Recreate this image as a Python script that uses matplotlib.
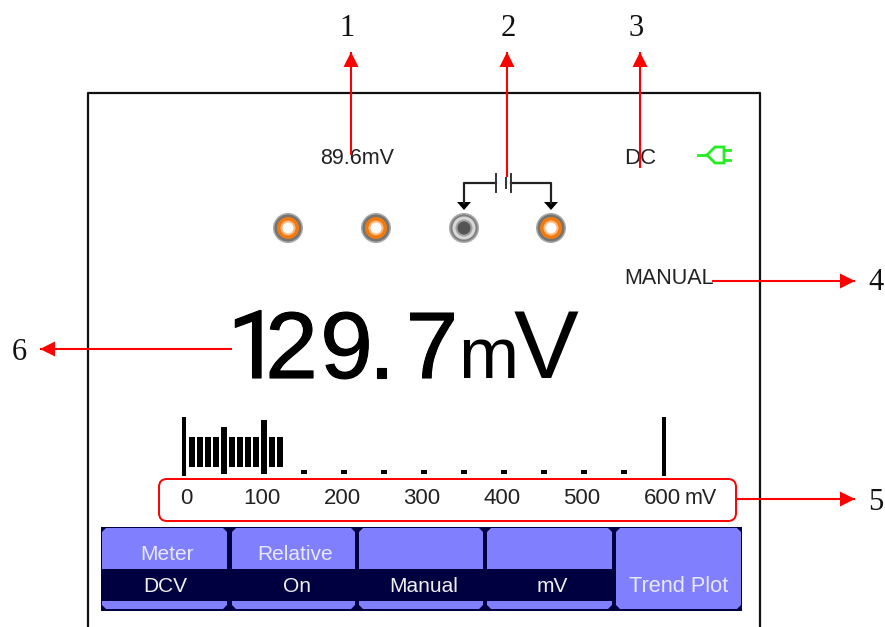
import matplotlib
matplotlib.use("Agg")
import matplotlib.pyplot as plt
import matplotlib.patheffects as pe
from matplotlib.patches import Circle, FancyBboxPatch, Polygon, Rectangle

W, H = 885, 627

# bar graph: values in mV, tops/bottoms in image pixels
bar_mv = [10, 20, 30, 40, 50, 60, 70, 80, 90, 100, 110, 120]
bar_top = [437, 437, 437, 437, 427, 437, 437, 437, 437, 420, 437, 437]
bar_bottom = [467, 467, 467, 467, 470, 467, 467, 467, 467, 470, 467, 467]
limit_mv = [0, 600]
dot_mv = [50, 100, 150, 200, 250, 300, 350, 400, 450, 500, 550]
scale_ticks = [0, 100, 200, 300, 400, 500, 600]
scale_labels = ["0", "100", "200", "300", "400", "500", "600"]

# big reading is spaced by hand, the screen font is tighter than Liberation
reading_chars = ["1", "2", "9", ".", "7"]
reading_x = [254, 291.5, 346.5, 381.5, 432]
# Roboto for the 1 because Liberation's has a foot the screen font doesn't
reading_font = ["Roboto", "Liberation Sans", "Liberation Sans", "Liberation Sans", "Liberation Sans"]

menu_top = ["Meter", "Relative", "", ""]
menu_bottom = ["DCV", "On", "Manual", "mV"]
menu_left = [102, 232, 359, 487]
menu_right = [227, 355, 483, 612]

terminal_x = [288, 376, 464, 551]
terminal_on = [True, True, False, True]

NAVY = "#000040"
BLUE = "#8080ff"
RED = "#ff0000"
TEXT = "#222222"
SANS = ["Liberation Sans", "DejaVu Sans"]


def px_to_mv(x):
    return (x - 184) * 600 / 480


def arrow(ax, x0, y0, x1, y1):
    ax.plot([x0, x1], [y0, y1], color=RED, lw=1.5, solid_capstyle="butt", zorder=6)
    dx = (x1 > x0) - (x1 < x0)
    dy = (y1 > y0) - (y1 < y0)
    # head is 15 px long, 15 px wide
    ax.add_patch(Polygon([(x1, y1),
                          (x1 - 15 * dx + 7.5 * dy, y1 - 15 * dy + 7.5 * dx),
                          (x1 - 15 * dx - 7.5 * dy, y1 - 15 * dy - 7.5 * dx)],
                         color=RED, lw=0, zorder=6))


def button(ax, x0, x1, y0, y1, cut_top=True, cut_bottom=True):
    c = 4
    pts = []
    pts += [(x0 + c, y0), (x1 - c, y0), (x1, y0 + c)] if cut_top else [(x0, y0), (x1, y0)]
    pts += [(x1, y1 - c), (x1 - c, y1), (x0 + c, y1), (x0, y1 - c)] if cut_bottom else [(x1, y1), (x0, y1)]
    if cut_top:
        pts.append((x0, y0 + c))
    ax.add_patch(Polygon(pts, color=BLUE, lw=0, zorder=2))


fig = plt.figure(figsize=(W / 100, H / 100), dpi=100, facecolor="white")
ax = fig.add_axes([0, 0, 1, 1])
ax.set_xlim(0, W)
ax.set_ylim(H, 0)
ax.axis("off")

# screen frame
ax.plot([88, 88, 760, 760], [H, 93, 93, H], color="#111111", lw=1.6, zorder=1)

# top status row
ax.text(357, 158, "89.6mV", family=SANS, fontsize=15.5, color=TEXT, ha="center", va="center")
ax.text(640, 158, "DC", family=SANS, fontsize=16, color=TEXT, ha="center", va="center")
ax.text(669, 279, "MANUAL", family=SANS, fontsize=15.5, color=TEXT, ha="center", va="center")

# plug icon
GREEN = "#22ee22"
ax.plot([698, 707], [155, 155], color=GREEN, lw=2)
ax.add_patch(Polygon([(707, 155), (715, 147), (724, 147), (724, 163), (715, 163)],
                     fill=False, edgecolor=GREEN, lw=2))
ax.plot([724, 730], [150, 150], color=GREEN, lw=2)
ax.plot([724, 730], [160, 160], color=GREEN, lw=2)

# wiring + battery symbol
ax.plot([464, 464, 496], [203, 183, 183], color="#222222", lw=1.6)
ax.plot([511, 551, 551], [183, 183, 203], color="#222222", lw=1.6)
for px, half in [(496, 9), (505.5, 5), (511, 9)]:
    ax.plot([px, px], [183 - half, 183 + half], color="#333333", lw=1.4)
for px in [464, 551]:
    ax.add_patch(Polygon([(px - 7, 202), (px + 7, 202), (px, 210)], color="black", lw=0))

# input terminals
for x, on in zip(terminal_x, terminal_on):
    if on:
        rings = [(15, "#a8a8a8"), (13.5, "#747474"), (11, "#f07a10"), (7.5, "#ffb878"), (5.5, "white")]
    else:
        rings = [(15, "#a8a8a8"), (13.5, "#808080"), (11.5, "#d8d8d8"), (8.5, "#a0a0a0"), (6.5, "#555555")]
    for r, col in rings:
        ax.add_patch(Circle((x, 228), r, color=col, lw=0, zorder=3))

# main reading
thick = [pe.withStroke(linewidth=0.8, foreground="black")]
for ch, x, fam in zip(reading_chars, reading_x, reading_font):
    ax.text(x, 378, ch, family=[fam, "DejaVu Sans"], fontsize=68, color="black", ha="center",
            va="baseline", path_effects=thick)
ax.text(488, 378, "m", family=SANS, fontsize=52, color="black", ha="center", va="baseline")
ax.text(546, 378, "V", family=SANS, fontsize=70, color="black", ha="center", va="baseline")

# gauge, x axis in mV
gauge = fig.add_axes([184 / W, 0, 480 / W, 1])
gauge.set_xlim(0, 600)
gauge.set_ylim(H, 0)
gauge.axis("off")
gauge.patch.set_alpha(0)
gauge.bar(bar_mv, [b - t for t, b in zip(bar_top, bar_bottom)], bottom=bar_top,
          width=6.5, color="black")
gauge.bar(limit_mv, 59, bottom=417, width=6, color="black", clip_on=False)
gauge.bar(dot_mv, 4, bottom=470, width=6.5, color="black")
for v, lab in zip(scale_ticks, scale_labels):
    gauge.text(v + (3 if v == 0 else -2.5), 499, lab, family=SANS,
               fontsize=16, color=TEXT, ha="center", va="center", clip_on=False)
gauge.text(px_to_mv(701), 499, "mV", family=SANS, fontsize=15.5, color=TEXT,
           ha="center", va="center", clip_on=False)

# red scale outline
outline = FancyBboxPatch((167, 479), 561, 42, boxstyle="round,pad=0,rounding_size=8",
                         fill=False, edgecolor=RED, lw=1.4, zorder=5)
ax.add_patch(outline)
outline.set_bounds(159, 479, 577, 42)

# softkey menu
ax.add_patch(Rectangle((101, 527), 641, 84, color=NAVY, lw=0, zorder=1))
for i, (x0, x1) in enumerate(zip(menu_left, menu_right)):
    button(ax, x0, x1, 528, 569, cut_bottom=False)
    button(ax, x0, x1, 601, 609, cut_top=False)
    cx = (x0 + x1) / 2
    ax.text(cx + 2 if i else cx + 3, 554, menu_top[i], family=SANS, fontsize=15, color="#e8e8ff",
            ha="center", va="center", zorder=4)
    ax.text(cx + 3 if i else cx + 1, 586, menu_bottom[i], family=SANS, fontsize=15, color="#f0f0f0",
            ha="center", va="center", zorder=4)
button(ax, 616, 741, 528, 609)
ax.text(679, 586, "Trend Plot", family=SANS, fontsize=15.7, color="#e8e8ff",
        ha="center", va="center", zorder=4)

# callouts
arrow(ax, 351, 155, 351, 52)
arrow(ax, 507, 177, 507, 52)
arrow(ax, 640, 168, 640, 52)
arrow(ax, 712, 281, 855, 281)
arrow(ax, 736, 499, 855, 499)
arrow(ax, 232, 349, 40, 349)

callout_nums = ["1", "2", "3", "4", "5", "6"]
callout_x = [347, 508, 636, 876, 876, 19]
callout_y = [28, 28, 28, 283, 502, 353]
for s, x, y in zip(callout_nums, callout_x, callout_y):
    ax.text(x, y, s, family=["Liberation Serif", "DejaVu Serif"], fontsize=22, color="#111111",
            ha="center", va="center")

fig.savefig("out.png", dpi=100)
